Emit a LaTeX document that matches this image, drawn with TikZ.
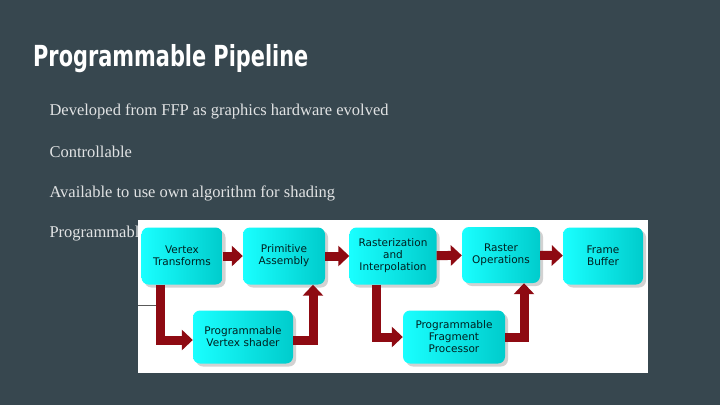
\documentclass[tikz,border=0pt]{standalone}
\usepackage{fontspec}
\setmainfont{Liberation Serif}
\newfontfamily\titlefont{DejaVu Sans Condensed}
\newfontfamily\boxfont{DejaVu Sans}
\usetikzlibrary{arrows.meta,shadows}
\definecolor{bg}{HTML}{37474F}
\definecolor{arr}{HTML}{8E0A12}
\begin{document}
\begin{tikzpicture}[x=1pt,y=-1pt,
  stage/.style={rounded corners=7pt,left color=cyan!90!white,right color=cyan!60!teal,
    drop shadow={shadow xshift=3pt,shadow yshift=-3pt,fill=gray!70},
    text=black!75!teal,font=\boxfont\fontsize{10.5}{12}\selectfont,align=center,inner sep=0pt},
  flow/.style={arr,line width=9pt,-{Triangle[length=11pt,width=20pt]}},
  bullet/.style={anchor=west,text=white!85!bg,font=\fontsize{16.5}{19}\selectfont}]
\useasboundingbox (0,0) rectangle (720,405);
\fill[bg] (0,0) rectangle (720,405);
\node[anchor=west,text=white,font=\titlefont\bfseries\fontsize{29}{33}\selectfont,xscale=0.8,inner sep=0pt] (title) at (33,59) {Programmable Pipeline};
\node[bullet] (b1) at (46,111) {Developed from FFP as graphics hardware evolved};
\node[bullet] (b2) at (46,152) {Controllable};
\node[bullet] (b3) at (46,193) {Available to use own algorithm for shading};
\node[bullet] (b4) at (46,234) {Programmable};
\fill[white] (138,220) rectangle (648,373);
\draw[gray!70!black,line width=0.8pt] (138,305) -- (165,305);
\node[stage,minimum width=81pt,minimum height=57pt] (vt) at (182,256) {Vertex\\Transforms};
\node[stage,minimum width=82pt,minimum height=57pt] (pa) at (284,256) {Primitive\\Assembly};
\node[stage,minimum width=87pt,minimum height=57pt] (ri) at (393,256) {Rasterization\\and\\Interpolation};
\node[stage,minimum width=78pt,minimum height=56pt] (ro) at (501,255) {Raster\\Operations};
\node[stage,minimum width=80pt,minimum height=57pt] (fb) at (603,256) {Frame\\Buffer};
\node[stage,minimum width=100pt,minimum height=53pt] (vs) at (243,337) {Programmable\\Vertex shader};
\node[stage,minimum width=102pt,minimum height=53pt] (fp) at (454,337) {Programmable\\Fragment\\Processor};
\coordinate (c1) at (160,340);
\coordinate (c2) at (313,340);
\coordinate (c3) at (376,337);
\coordinate (c4) at (524,337);
\draw[flow] (vt) -- (pa);
\draw[flow] (pa) -- (ri);
\draw[flow] (ri) -- (ro);
\draw[flow] (ro) -- (fb);
\draw[flow] (vt.south -| c1) -- (c1) -- (vs.west |- c1);
\draw[flow] (vs.east |- c2) -- (c2) -- (pa.south -| c2);
\draw[flow] (ri.south -| c3) -- (c3) -- (fp.west |- c3);
\draw[flow] (fp.east |- c4) -- (c4) -- (ro.south -| c4);
\end{tikzpicture}
\end{document}
